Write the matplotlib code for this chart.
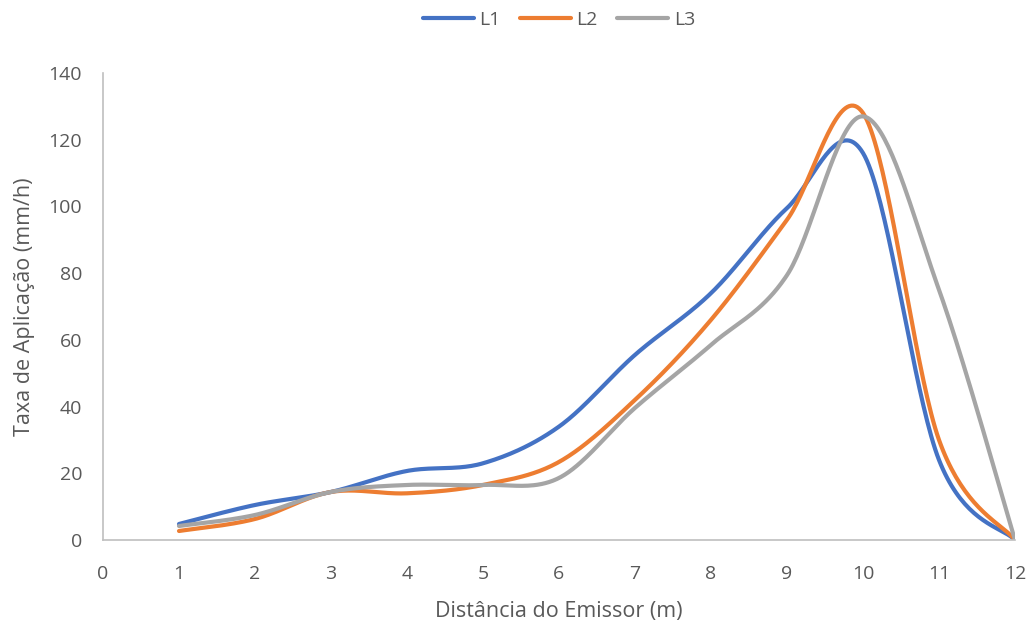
import numpy as np
import matplotlib.pyplot as plt

# distance from emitter (m) and application rate (mm/h) per line
distancia = [1, 2, 3, 4, 5, 6, 7, 8, 9, 10, 11, 12]
l1 = [4.8, 10.5, 14.4, 20.7, 23.0, 34.0, 55.5, 74.0, 99.5, 116.0, 24.0, 0.0]
l2 = [2.7, 6.3, 14.4, 14.0, 16.5, 23.4, 42.0, 66.0, 96.0, 128.0, 30.0, 0.0]
l3 = [4.2, 7.5, 14.4, 16.5, 16.5, 18.6, 39.6, 58.5, 79.4, 127.0, 75.0, 0.0]

series = [("L1", l1, "#4472C4"), ("L2", l2, "#ED7D31"), ("L3", l3, "#A5A5A5")]


def smooth(x, y, n=40):
    # bezier smoothing through the points, same idea as a spreadsheet "smoothed line"
    x = np.asarray(x, float)
    y = np.asarray(y, float)
    px = np.concatenate([[x[0]], x, [x[-1]]])
    py = np.concatenate([[y[0]], y, [y[-1]]])
    xs, ys = [], []
    t = np.linspace(0, 1, n)
    for i in range(1, len(px) - 2):
        p0 = np.array([px[i], py[i]])
        p3 = np.array([px[i + 1], py[i + 1]])
        p1 = p0 + (np.array([px[i + 1], py[i + 1]]) - np.array([px[i - 1], py[i - 1]])) / 6
        p2 = p3 - (np.array([px[i + 2], py[i + 2]]) - np.array([px[i], py[i]])) / 6
        b = ((1 - t) ** 3)[:, None] * p0 + (3 * (1 - t) ** 2 * t)[:, None] * p1 \
            + (3 * (1 - t) * t ** 2)[:, None] * p2 + (t ** 3)[:, None] * p3
        xs.extend(b[:, 0])
        ys.extend(b[:, 1])
    return xs, ys


plt.rcParams['font.family'] = ['Open Sans', 'DejaVu Sans']
txt = "#595959"

fig = plt.figure(figsize=(10.32, 6.26), dpi=100)
ax = fig.add_axes([103 / 1032, 1 - 540 / 626, 912 / 1032, 467 / 626])

for nome, vals, cor in series:
    sx, sy = smooth(distancia, vals)
    ax.plot(sx, sy, color=cor, lw=3, label=nome, solid_capstyle='round')

ax.set_xlim(0, 12)
ax.set_ylim(0, 140)
ax.set_xticks(range(0, 13))
ax.set_yticks(range(0, 141, 20))
ax.tick_params(length=0, labelsize=14, colors=txt)
ax.tick_params(axis='y', pad=15)
ax.tick_params(axis='x', pad=18)

for s in ["top", "right"]:
    ax.spines[s].set_visible(False)
for s in ["left", "bottom"]:
    ax.spines[s].set_color("#BFBFBF")
    ax.spines[s].set_linewidth(1.2)

ax.set_xlabel("Distância do Emissor (m)", fontsize=15.5, color=txt, labelpad=13)
ax.set_ylabel("Taxa de Aplicação (mm/h)", fontsize=15.5, color=txt, labelpad=10)

leg = ax.legend(loc="center", bbox_to_anchor=(0.5, (626 - 20 - 86) / 467), ncol=3, frameon=False,
                fontsize=14, handlelength=2.6, columnspacing=1.0, handletextpad=0.3)
for t in leg.get_texts():
    t.set_color(txt)

fig.savefig("out.png", dpi=100)
